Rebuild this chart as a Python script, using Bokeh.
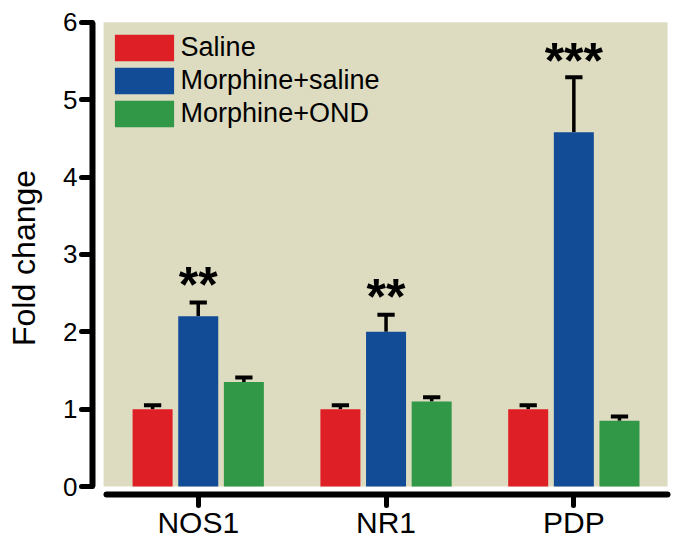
from bokeh.plotting import figure
from bokeh.models import ColumnDataSource, FixedTicker, Legend, LegendItem, Range1d
from bokeh.core.properties import value
from bokeh.embed import file_html
from bokeh.resources import INLINE

# ---- data ----
genes = ["NOS1", "NR1", "PDP"]
series_names = ["Saline", "Morphine+saline", "Morphine+OND"]
saline = [1.00, 1.00, 1.00]
saline_err = [0.05, 0.05, 0.05]
morphine_saline = [2.20, 2.00, 4.58]
morphine_saline_err = [0.18, 0.22, 0.71]
morphine_ond = [1.35, 1.10, 0.85]
morphine_ond_err = [0.06, 0.055, 0.055]
significance = ["**", "**", "***"]
significance_y = [2.74, 2.58, 5.63]
y_ticks = [0, 1, 2, 3, 4, 5, 6]

# ---- style ----
colors = ["#DF1F26", "#134C96", "#319848"]
BG = "#DDDBC0"
FONT = "Liberation Sans"
group_x = [1, 2, 3]
offsets = [-0.243, 0.0, 0.243]
bar_w = 0.213
cap_half = 0.046

p = figure(width=679, height=545, output_backend="svg", toolbar_location=None,
           x_range=Range1d(0.437, 3.504), y_range=Range1d(-0.103, 6.01),
           min_border_left=92, min_border_right=11, min_border_top=21,
           min_border_bottom=51)
p.outline_line_color = None
p.grid.visible = False
p.background_fill_color = "white"
p.border_fill_color = "white"

# beige plotting panel
p.quad(left=[0.496], right=[3.499], bottom=[0], top=[6], fill_color=BG, line_color=None)

items = []
for vals, errs, off, col, name in zip([saline, morphine_saline, morphine_ond],
                                      [saline_err, morphine_saline_err, morphine_ond_err],
                                      offsets, colors, series_names):
    xs = [g + off for g in group_x]
    src = ColumnDataSource(dict(
        x=xs, top=vals,
        upper=[v + e for v, e in zip(vals, errs)],
        cl=[x - cap_half for x in xs], cr=[x + cap_half for x in xs]))
    p.segment(x0="x", y0="top", x1="x", y1="upper", source=src,
              line_color="black", line_width=3.5)
    p.segment(x0="cl", y0="upper", x1="cr", y1="upper", source=src,
              line_color="black", line_width=4)
    r = p.vbar(x="x", top="top", bottom=0, width=bar_w, source=src,
               fill_color=col, line_color=None)
    items.append(LegendItem(label=name, renderers=[r]))

# significance stars over Morphine+saline bars
p.text(x=[g + offsets[1] for g in group_x], y=significance_y, text=significance,
       text_align="center", text_baseline="middle", y_offset=10,
       text_font=value(FONT), text_font_size="50px", text_font_style="bold",
       text_color="black")

legend = Legend(items=items, location=(14.6, 364.3), orientation="vertical",
                glyph_width=74, glyph_height=33, spacing=0, padding=0, margin=0,
                label_standoff=0, label_text_font=FONT, label_text_font_size="27px",
                label_text_color="black",
                border_line_color=None, background_fill_alpha=0)
p.add_layout(legend)

# axes
for ax in (p.yaxis, p.xaxis):
    ax.axis_line_width = 6
    ax.axis_line_color = "black"
    ax.major_tick_line_width = 5
    ax.major_tick_line_color = "black"
    ax.major_tick_line_cap = "round"
    ax.major_tick_out = 11
    ax.major_tick_in = 0
    ax.minor_tick_line_color = None
    ax.major_label_text_font = FONT
    ax.major_label_text_color = "black"

p.yaxis.ticker = FixedTicker(ticks=y_ticks)
p.yaxis.bounds = (0, 6)
p.yaxis.major_label_text_font_size = "26px"
p.yaxis.major_label_standoff = 4
p.yaxis.axis_label = "Fold change"
p.yaxis.axis_label_text_font = FONT
p.yaxis.axis_label_text_font_size = "32px"
p.yaxis.axis_label_text_font_style = "normal"
p.yaxis.axis_label_text_color = "black"
p.yaxis.axis_label_standoff = 18

p.xaxis.ticker = FixedTicker(ticks=group_x)
p.xaxis.major_label_overrides = {g: name for g, name in zip(group_x, genes)}
p.xaxis.bounds = (0.51, 3.5)
p.xaxis.axis_line_cap = "round"
p.xaxis.major_label_text_font_size = "30px"
p.xaxis.major_label_standoff = 0

open("out.html", "w").write(file_html(p, INLINE))
